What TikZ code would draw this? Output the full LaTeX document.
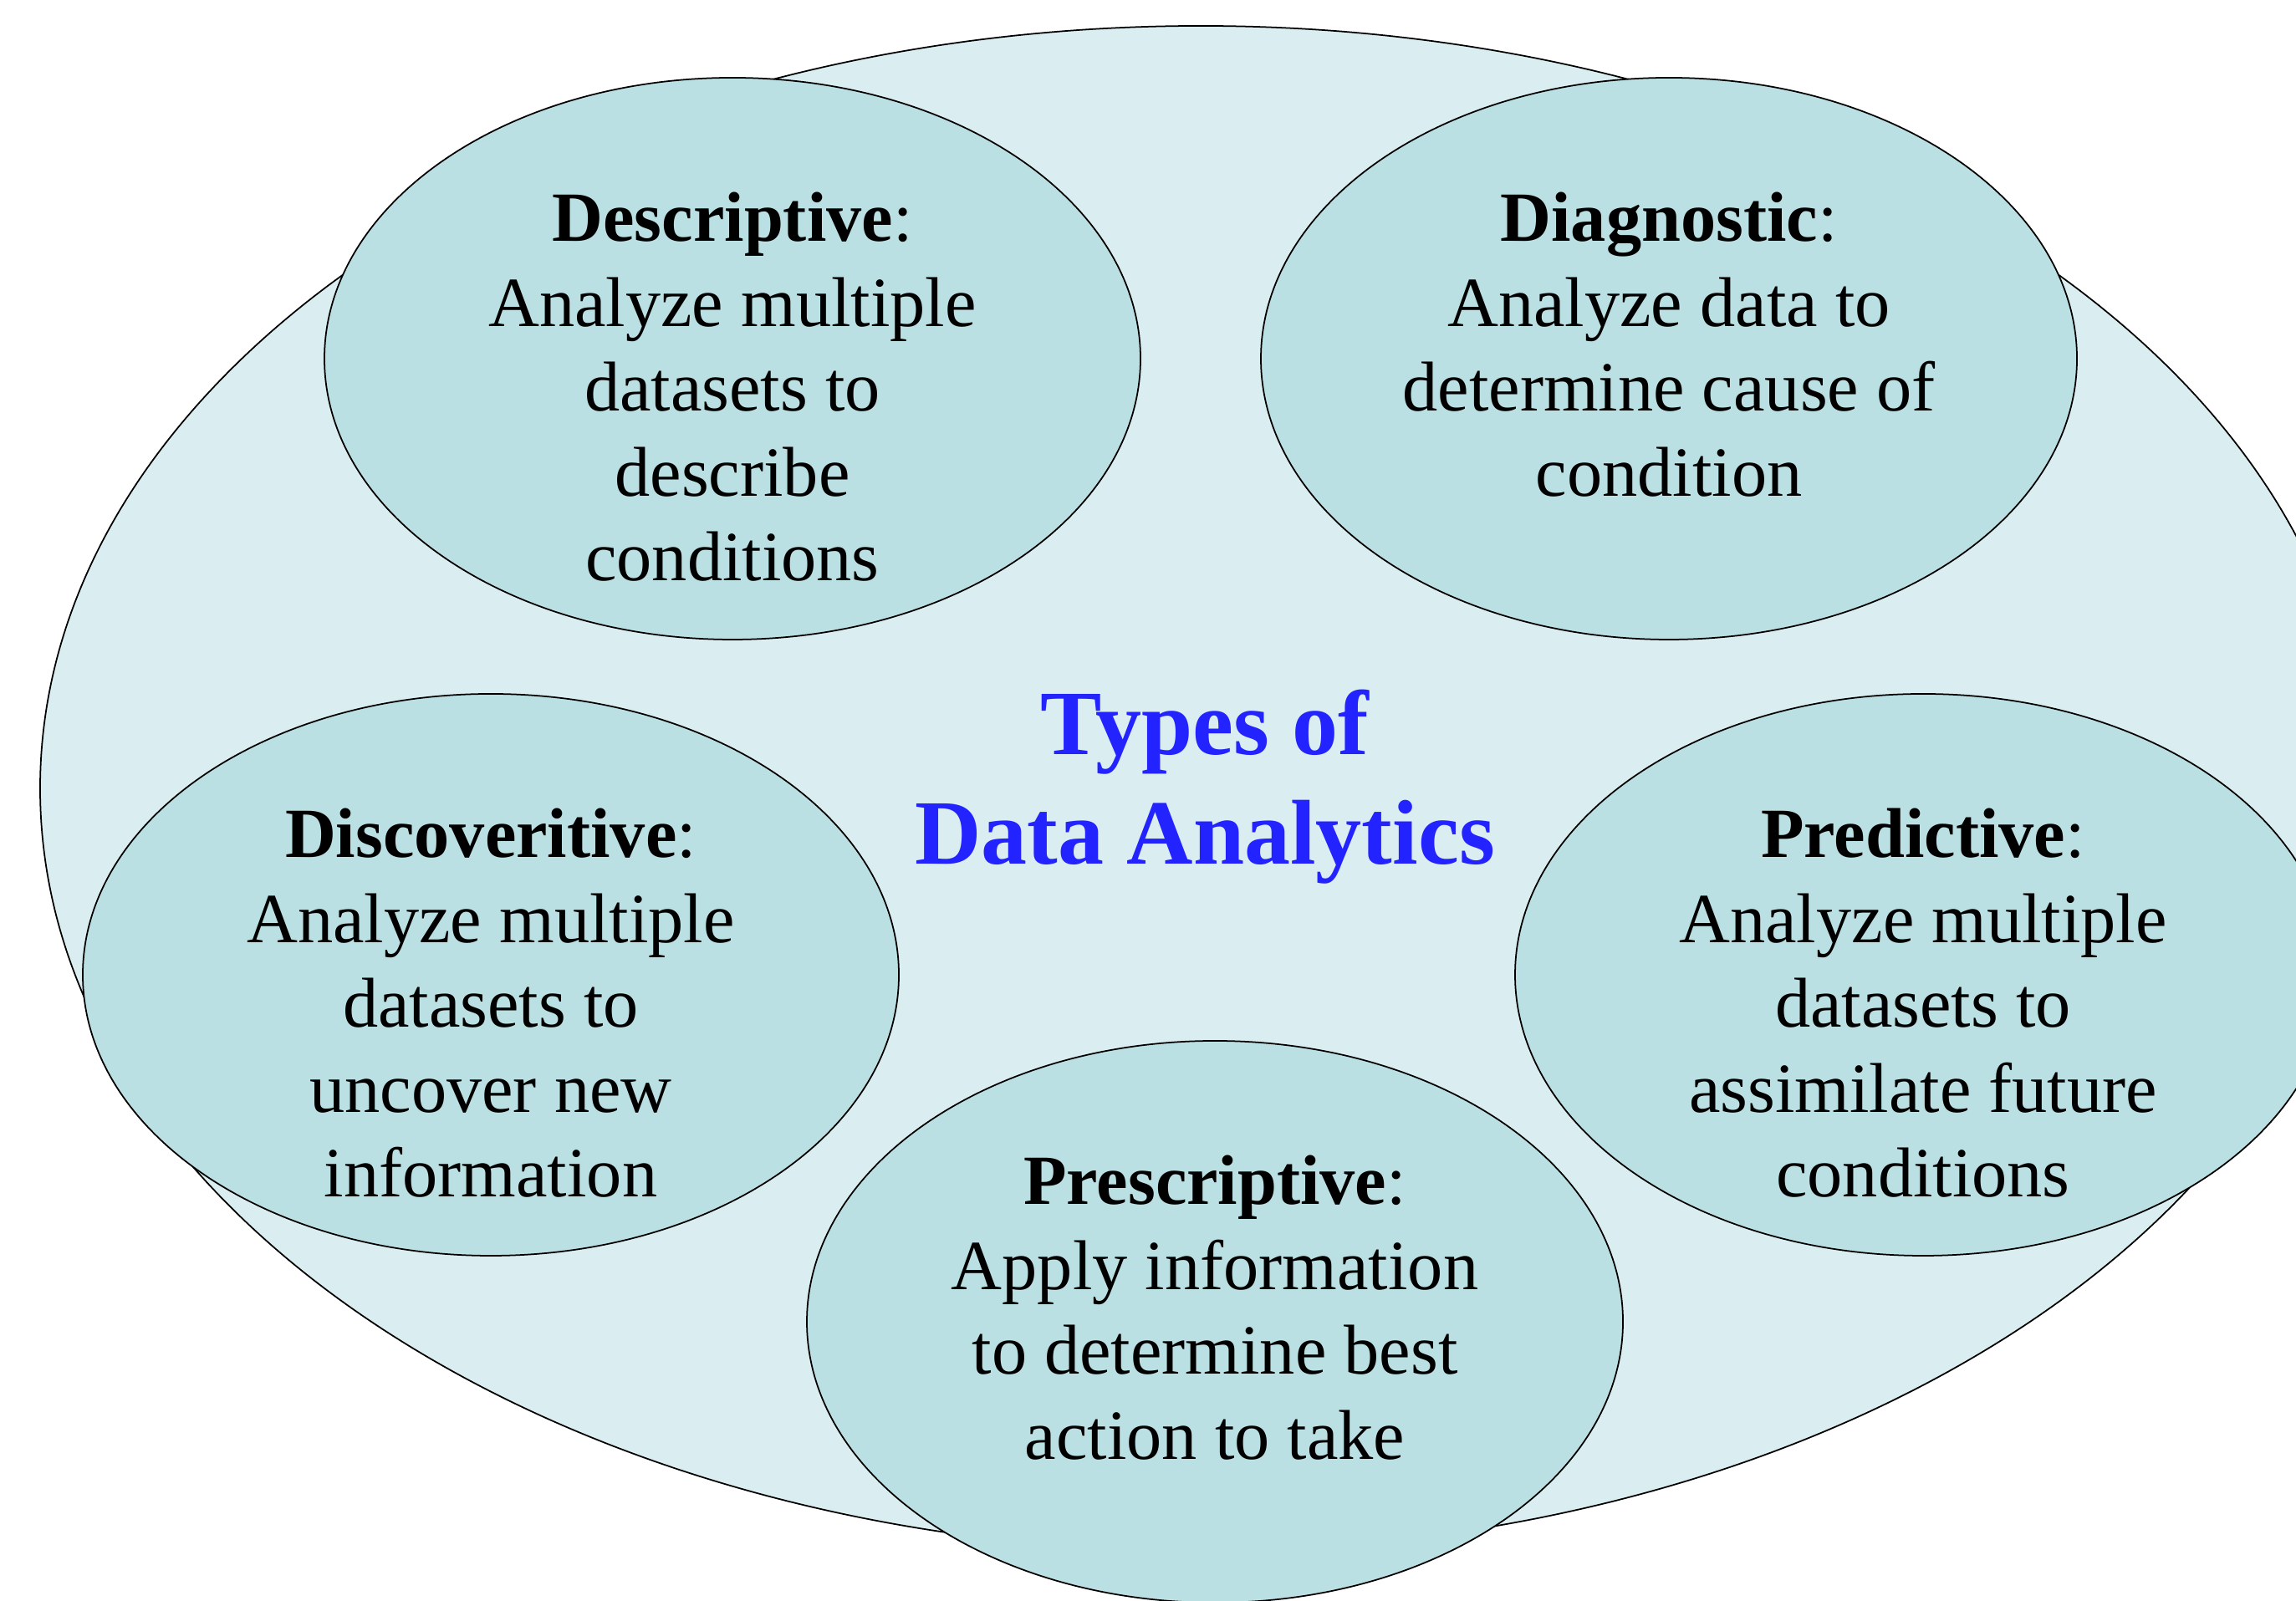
\documentclass[tikz,border=0pt]{standalone}
\usepackage{fontspec}
\setmainfont{Liberation Serif}
\usetikzlibrary{shapes.geometric}
\definecolor{outerfill}{RGB}{218,237,240}
\definecolor{innerfill}{RGB}{187,224,227}
\definecolor{titleblue}{RGB}{35,35,255}
\tikzset{
  outerell/.style={ellipse, draw=black, line width=0.5pt, fill=outerfill, inner sep=0pt,
    minimum width=27.76cm, minimum height=18.24cm},
  innerell/.style={ellipse, draw=black, line width=0.5pt, fill=innerfill, inner sep=0pt,
    minimum width=9.76cm, minimum height=6.72cm},
  bodytext/.style={anchor=north, inner sep=0pt, align=center,
    font=\fontsize{24}{28.9}\selectfont},
  titletext/.style={anchor=north, inner sep=0pt, align=center, text=titleblue,
    font=\fontsize{31.3}{37.3}\selectfont\bfseries}
}
\begin{document}
\begin{tikzpicture}
\useasboundingbox (0,0) rectangle (27.46,19.15);
\clip (0,0) rectangle (27.46,19.15);
\node[outerell] (big) at (14.36,9.72) {};
\node[innerell] (desc) at (8.76,14.86) {};
\node[innerell] (diag) at (19.96,14.86) {};
\node[innerell] (disc) at (5.87,7.49) {};
\node[innerell] (pred) at (23.00,7.49) {};
\node[innerell] (presc) at (14.53,3.34) {};
\node[titletext] (title) at (14.41,11.05) {\strut Types of\\Data Analytics};
\node[bodytext] (desct) at ([yshift=2.121cm]desc.center) {\strut\textbf{Descriptive}:\\Analyze multiple\\datasets to\\describe\\conditions};
\node[bodytext] (diagt) at ([yshift=2.121cm]diag.center) {\strut\textbf{Diagnostic}:\\Analyze data to\\determine cause of\\condition};
\node[bodytext] (disct) at ([yshift=2.121cm]disc.center) {\strut\textbf{Discoveritive}:\\Analyze multiple\\datasets to\\uncover new\\information};
\node[bodytext] (predt) at ([yshift=2.121cm]pred.center) {\strut\textbf{Predictive}:\\Analyze multiple\\datasets to\\assimilate future\\conditions};
\node[bodytext] (presct) at ([yshift=2.121cm]presc.center) {\strut\textbf{Prescriptive}:\\Apply information\\to determine best\\action to take};
\end{tikzpicture}
\end{document}
